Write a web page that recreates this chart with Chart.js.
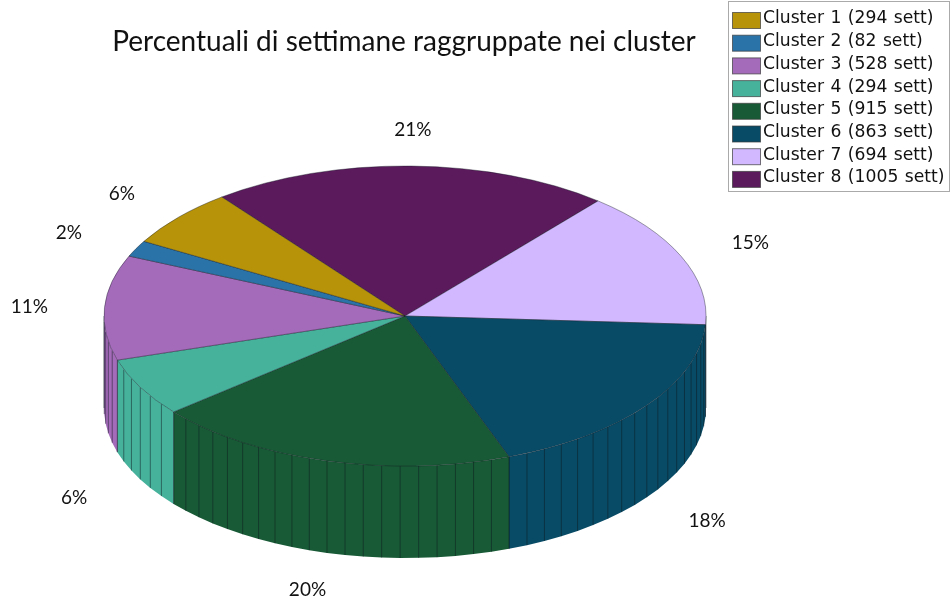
<!DOCTYPE html>
<html>
<head>
<meta charset="utf-8">
<title>Percentuali di settimane</title>
<script src="https://cdn.jsdelivr.net/npm/chart.js@4"></script>
<style>
    html, body { margin: 0; padding: 0; background: #fff; }
    #wrap { width: 950px; height: 603px; position: relative; }
</style>
</head>
<body>
<div id="wrap"><canvas id="pie-chart"></canvas></div>
<script>
const clusters = ['Cluster 1', 'Cluster 2', 'Cluster 3', 'Cluster 4', 'Cluster 5', 'Cluster 6', 'Cluster 7', 'Cluster 8'];
const weeks = [294, 82, 528, 294, 915, 863, 694, 1005];
const colors = ['#B79309', '#2A73A8', '#A56BBB', '#46B29C', '#185A36', '#084B66', '#D2B8FF', '#5A1A5C'];

const titleText = 'Percentuali di settimane raggruppate nei cluster';
const labelFont = 'Lato, sans-serif';
const legendFont = '17.2px "DejaVu Sans", sans-serif';

// where the flattened pie goes on the page
const cx = 405, cy = 316, rx = 301, ry = 150, depth = 92;
const facetStep = Math.PI / 50;

const legendLabels = clusters.map((c, i) => c + ' (' + weeks[i] + ' sett)');
const total = weeks.reduce((a, b) => a + b, 0);

function ellipsePoint(a, yOffset) {
    return [cx + rx * Math.cos(a), cy + ry * Math.sin(a) + yOffset];
}

// side wall of one slice, only the part facing the viewer
function drawWall(ctx, arc, color) {
    const span = arc.endAngle - arc.startAngle;
    const step = span / Math.max(1, Math.round(span / facetStep));

    for (let k = -1; k <= 1; k++) {
        const start = arc.startAngle + k * 2 * Math.PI;
        const from = Math.max(start, 0);
        const to = Math.min(start + span, Math.PI);
        if (to <= from) continue;

        const angles = [from];
        for (let a = start + step; a < to - 0.001; a += step) {
            if (a > from + 0.001) angles.push(a);
        }
        angles.push(to);

        ctx.beginPath();
        angles.forEach((t, i) => {
            const p = ellipsePoint(t, 0);
            if (i === 0) ctx.moveTo(p[0], p[1]); else ctx.lineTo(p[0], p[1]);
        });
        angles.slice().reverse().forEach(t => {
            const p = ellipsePoint(t, depth);
            ctx.lineTo(p[0], p[1]);
        });
        ctx.closePath();
        ctx.fillStyle = color;
        ctx.fill();

        ctx.strokeStyle = 'rgba(15, 25, 30, 0.7)';
        ctx.lineWidth = 0.7;
        angles.forEach(t => {
            const top = ellipsePoint(t, 0), bottom = ellipsePoint(t, depth);
            ctx.beginPath();
            ctx.moveTo(top[0], top[1]);
            ctx.lineTo(bottom[0], bottom[1]);
            ctx.stroke();
        });
    }
}

const pie3d = {
    id: 'pie3d',
    beforeDatasetsDraw(chart) {
        const ctx = chart.ctx;
        const arcs = chart.getDatasetMeta(0).data;
        arcs.forEach((arc, i) => drawWall(ctx, arc, chart.data.datasets[0].backgroundColor[i]));

        // squash the round pie into the ellipse
        const r = arcs[0].outerRadius;
        ctx.save();
        ctx.translate(cx, cy);
        ctx.scale(rx / r, ry / r);
        ctx.translate(-arcs[0].x, -arcs[0].y);
    },
    afterDatasetsDraw(chart) {
        const ctx = chart.ctx;
        ctx.restore();

        // percent labels around the pie
        ctx.save();
        ctx.font = '19px ' + labelFont;
        ctx.fillStyle = '#111';
        ctx.textAlign = 'center';
        ctx.textBaseline = 'middle';
        chart.getDatasetMeta(0).data.forEach((arc, i) => {
            const mid = (arc.startAngle + arc.endAngle) / 2;
            const s = Math.sin(mid);
            const x = cx + 1.25 * rx * Math.cos(mid);
            const y = cy + 1.25 * ry * s + (s > 0 ? depth : 0) + 1;
            ctx.fillText(Math.round(chart.data.datasets[0].data[i] / total * 100) + '%', x, y);
        });
        ctx.restore();
    },
    afterDraw(chart) {
        const ctx = chart.ctx;
        ctx.save();
        ctx.strokeStyle = '#aaa';
        ctx.lineWidth = 1;
        ctx.strokeRect(728.5, 1.5, 221, 190);
        ctx.font = legendFont;
        ctx.wordSpacing = '1px';
        ctx.textAlign = 'left';
        ctx.textBaseline = 'middle';
        legendLabels.forEach((label, i) => {
            const y = 12 + i * 22.7;
            ctx.fillStyle = colors[i];
            ctx.fillRect(732.5, y + 0.5, 28, 16);
            ctx.strokeStyle = 'rgba(60, 60, 60, 0.7)';
            ctx.strokeRect(732.5, y + 0.5, 28, 16);
            ctx.fillStyle = '#111';
            ctx.fillText(label, 763, y + 7);
        });
        ctx.restore();
    }
};

// the reference runs counter-clockwise, Chart.js clockwise, so feed it reversed
new Chart(document.getElementById('pie-chart'), {
    type: 'pie',
    data: {
        labels: legendLabels.slice().reverse(),
        datasets: [{
            data: weeks.slice().reverse(),
            backgroundColor: colors.slice().reverse(),
            borderColor: 'rgba(20, 25, 35, 0.6)',
            borderWidth: 0.8
        }]
    },
    options: {
        responsive: true,
        maintainAspectRatio: false,
        animation: false,
        rotation: 322.5,
        layout: { padding: { right: 142 } },
        plugins: {
            legend: { display: false },
            tooltip: { enabled: false },
            title: {
                display: true,
                text: titleText,
                fullSize: false,
                color: '#111',
                font: { family: labelFont, size: 28, weight: 'normal' },
                padding: { top: 25, bottom: 10 }
            }
        }
    },
    plugins: [pie3d]
});
</script>
</body>
</html>
